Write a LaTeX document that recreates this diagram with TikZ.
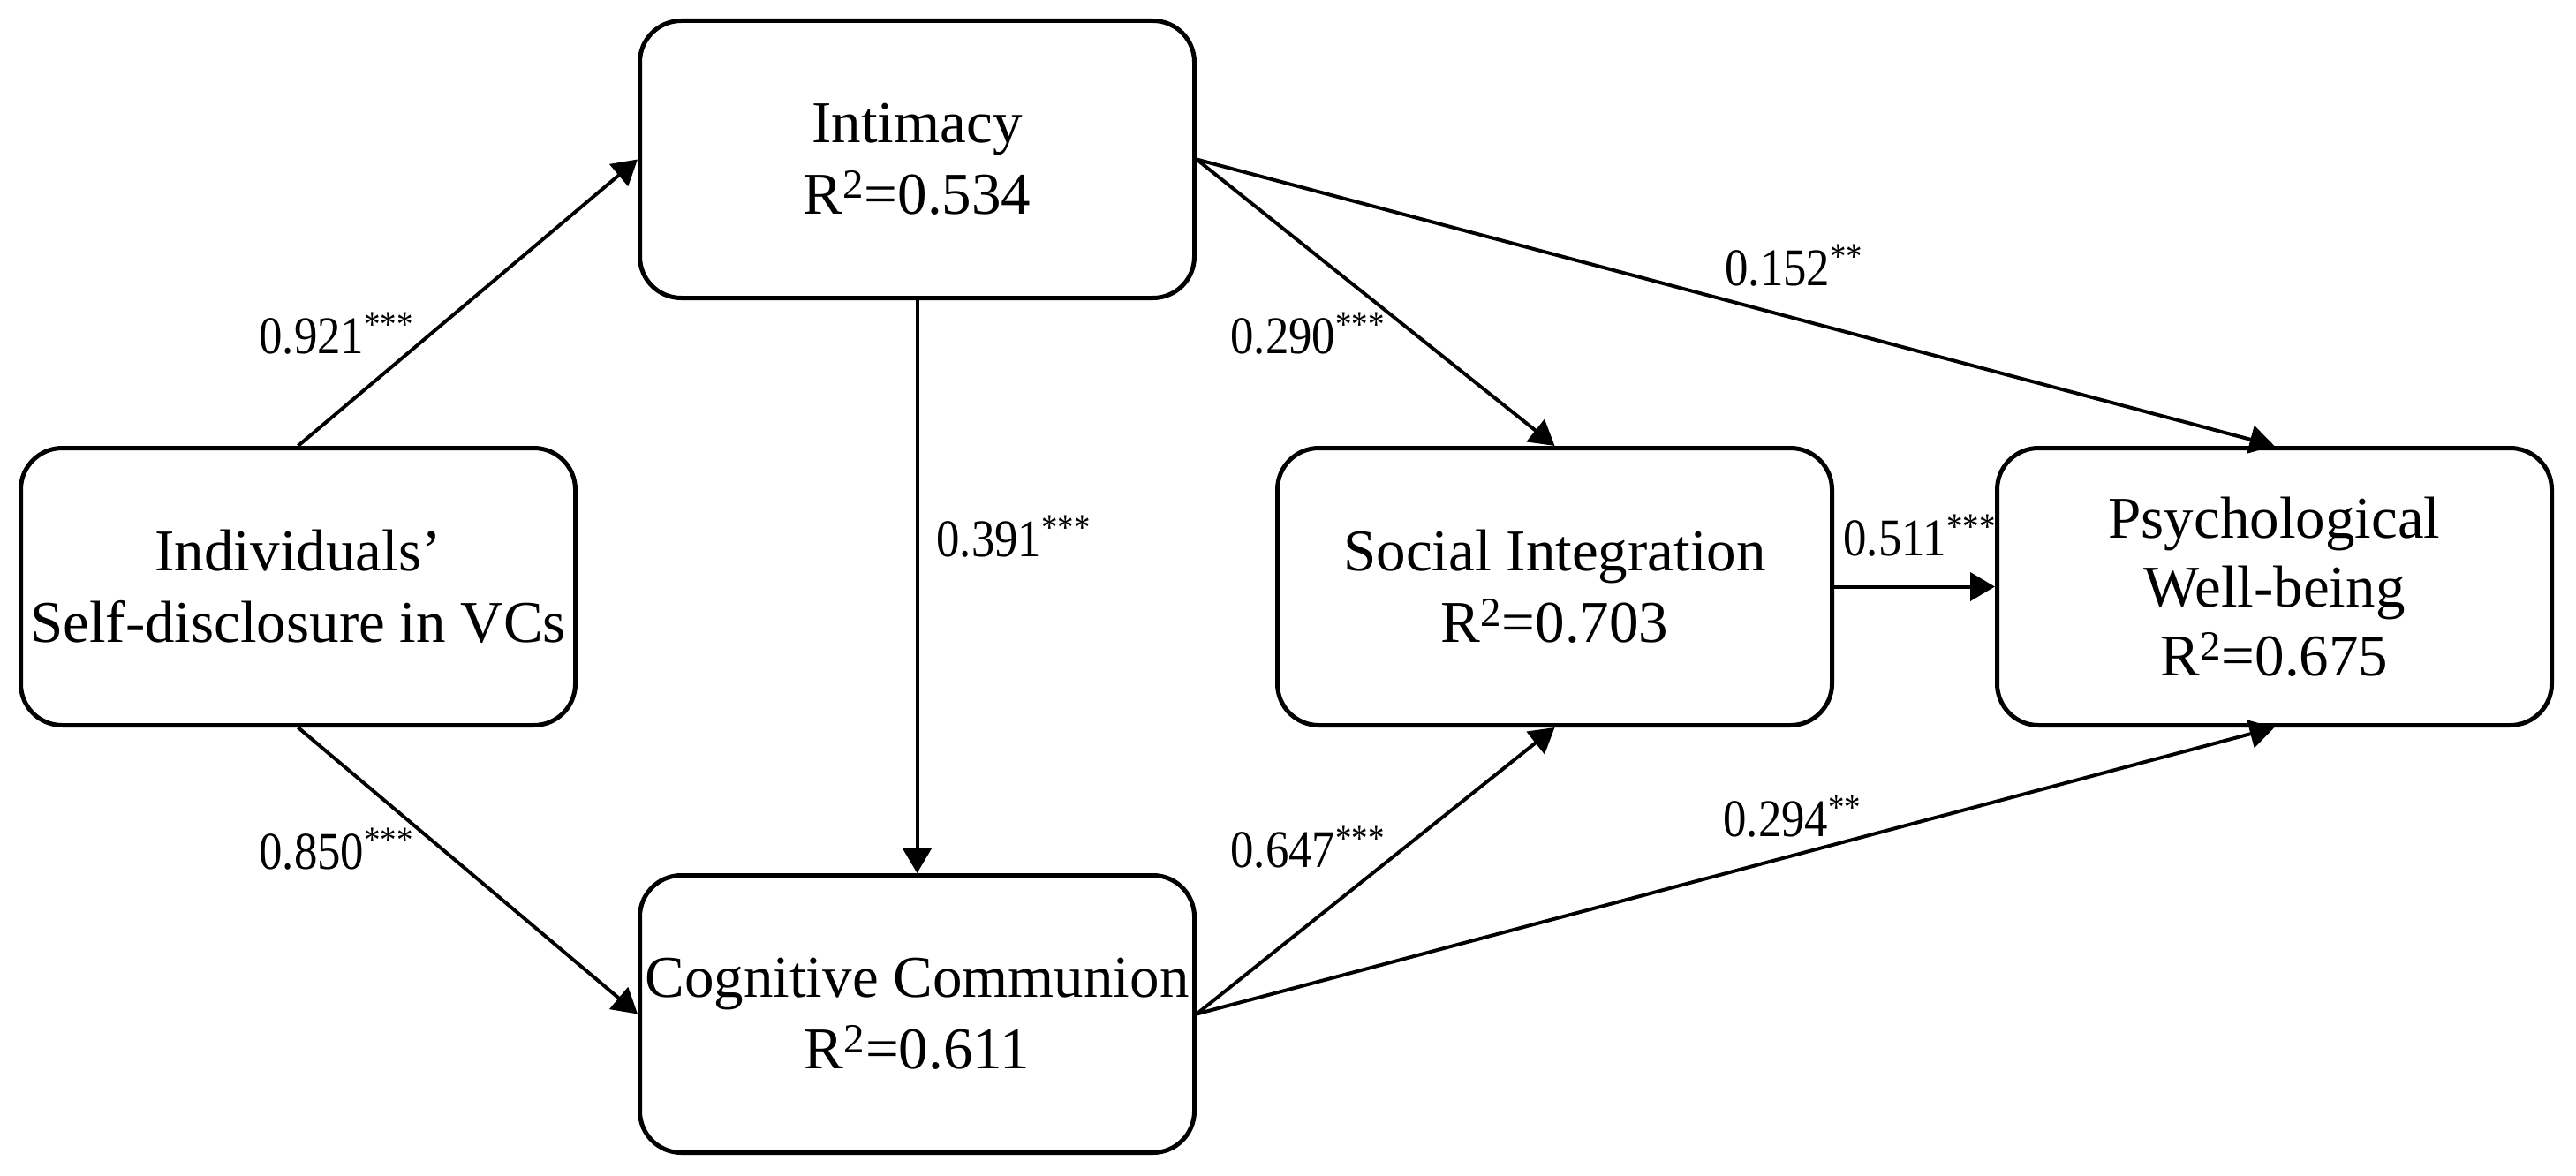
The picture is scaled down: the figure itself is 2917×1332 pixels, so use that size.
\documentclass[tikz,border=0pt]{standalone}
\usepackage{fontspec}
\setmainfont{Liberation Serif}
\newfontfamily\labfont[FakeStretch=0.88]{Liberation Serif}
\usetikzlibrary{arrows.meta}
\begin{document}
\begin{tikzpicture}[x=0.5pt,y=-0.5pt,
  box/.style={draw, line width=2.5pt, rounded corners=23.5pt,
    minimum width=314pt, minimum height=157pt, align=center,
    inner sep=0pt, font=\fontsize{33.5pt}{40.5pt}\selectfont},
  conn/.style={line width=2pt, -{Triangle[length=14pt,width=16pt]}},
  lab/.style={anchor=base west, inner sep=0pt,
    font=\labfont\fontsize{30pt}{34pt}\selectfont}]
\useasboundingbox (0,0) rectangle (2917,1332);
\fill[white] (0,0) rectangle (2917,1332);
% boxes
\node[box] (ind) at (337.5,664.5) {Individuals’\\Self-disclosure in VCs};
\node[box] (int) at (1038.5,180.5) {Intimacy\\R\textsuperscript{2}=0.534};
\node[box] (cog) at (1038.5,1148.5) {Cognitive Communion\\R\textsuperscript{2}=0.611};
\node[box] (soc) at (1760.5,664.5) {Social Integration\\R\textsuperscript{2}=0.703};
\node[box, font=\fontsize{33.5pt}{39pt}\selectfont] (psy) at (2575.5,664.5) {Psychological\\Well-being\\R\textsuperscript{2}=0.675};
% connectors
\draw[conn] (ind.north) -- (int.west);
\draw[conn] (ind.south) -- (cog.west);
\draw[conn] (int.south) -- (cog.north);
\draw[conn] (int.east) -- (soc.north);
\draw[conn] (int.east) -- (psy.north);
\draw[conn] (cog.east) -- (soc.south);
\draw[conn] (cog.east) -- (psy.south);
\draw[conn] (soc.east) -- (psy.west);
% labels
\node[lab] (l921) at (293,400) {0.921\textsuperscript{***}};
\node[lab] (l850) at (293,984) {0.850\textsuperscript{***}};
\node[lab] (l391) at (1060,630) {0.391\textsuperscript{***}};
\node[lab] (l290) at (1393,400) {0.290\textsuperscript{***}};
\node[lab] (l647) at (1393,982) {0.647\textsuperscript{***}};
\node[lab] (l152) at (1953,323) {0.152\textsuperscript{**}};
\node[lab] (l294) at (1951,947) {0.294\textsuperscript{**}};
\node[lab] (l511) at (2087,629) {0.511\textsuperscript{***}};
\end{tikzpicture}
\end{document}
